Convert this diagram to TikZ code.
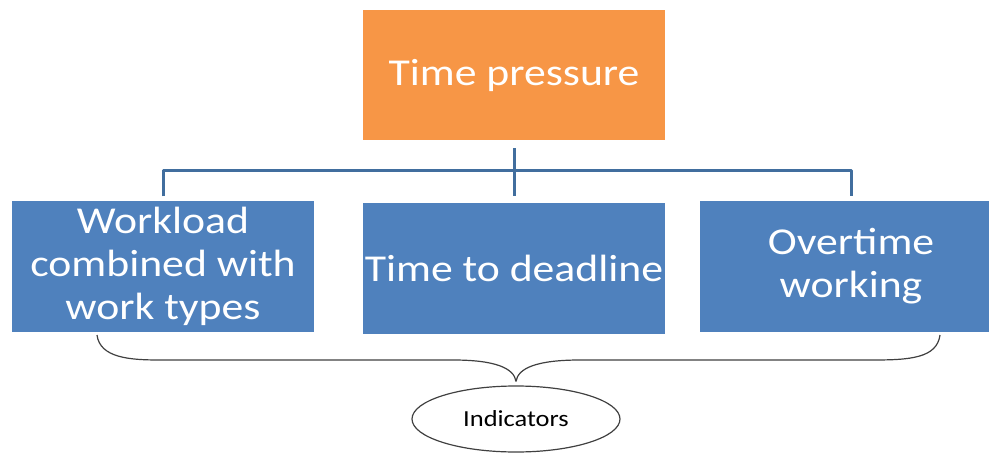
\documentclass[tikz,border=0pt]{standalone}
\usepackage{fontspec}
\newfontfamily\boxfont[FakeStretch=1.15]{Carlito}
\usetikzlibrary{positioning}
\usetikzlibrary{shapes.geometric}
\definecolor{pressorange}{HTML}{F79646}
\definecolor{indblue}{HTML}{4F81BD}
\definecolor{linkblue}{HTML}{416E9E}
\definecolor{bracegray}{HTML}{404040}

\begin{document}
\begin{tikzpicture}[x=1pt,y=-1pt,
    box/.style={minimum width=302pt, minimum height=131pt, inner sep=0pt,
      align=center, text=white, font=\boxfont\fontsize{38}{43}\selectfont},
    link/.style={draw=linkblue, line width=3pt, line join=round},
    bracket/.style={draw=bracegray, line width=1.2pt}]
      \clip (0,0) rectangle (989,458);
      \useasboundingbox (0,0) rectangle (989,458);

      \node[box, fill=pressorange, minimum height=130pt] (top) at (514,75) {Time pressure};
      \node[box, fill=indblue] (workload) at (163,266) {Workload\\combined with\\work types};
      \node[box, fill=indblue] (deadline) at (514,268.5) {Time to deadline};
      \node[box, fill=indblue] (overtime) at (851,266) {Overtime\\working};

      \coordinate (bus) at (514,170);
      \draw[link] ([yshift=-8pt]top.south) -- ([yshift=7pt]deadline.north);
      \draw[link] ([yshift=4pt]workload.north) |- (bus) -| ([yshift=4pt]overtime.north);

      \node[ellipse, draw=bracegray, line width=1.2pt, minimum width=208pt, minimum height=66pt,
        inner sep=0pt, font=\boxfont\fontsize{23}{26}\selectfont] (ind) at (516,419) {Indicators};

      \draw[bracket] (97,335) .. controls (100,358) and (130,360) .. (160,360) -- (453,360)
        .. controls (495,360) and (514,368) .. ([yshift=4pt]ind.north);
      \draw[bracket] ([yshift=4pt]ind.north) .. controls (518,368) and (537,360) .. (580,360)
        -- (873,360) .. controls (910,360) and (937,358) .. (940,335);
    \end{tikzpicture}
\end{document}
